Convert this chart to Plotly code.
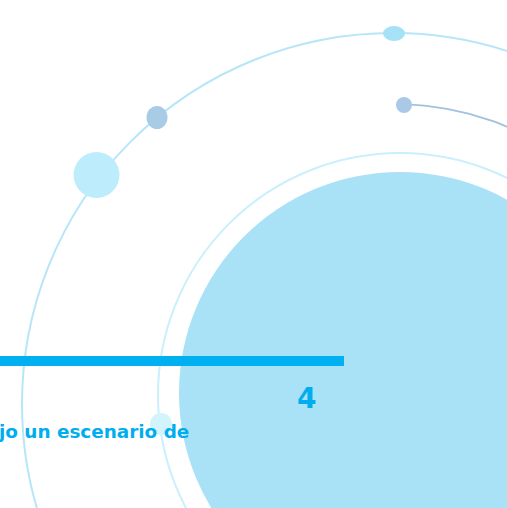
import numpy as np
import plotly.graph_objects as go

# ---- data (content of the graphic) ----
number_label = ["4"]
caption_text = ["jo un escenario de"]

# rings: centre x, centre y, radius
ring_cx = [393, 400]
ring_cy = [404, 395]
ring_r = [371, 242]
ring_colors = ["#b6e6f8", "#c9f0fc"]

disk_cx = [400]
disk_cy = [393]
disk_r = [221]

# dots: centre x, centre y, half-width, half-height
dot_x = [96.5, 157, 394, 404, 161]
dot_y = [175, 117.5, 33.5, 105, 424]
dot_rx = [23, 10.5, 11, 8, 11]
dot_ry = [23, 11.5, 7.5, 8, 11]
dot_colors = ["#bdecfc", "#a8cbe6", "#a6e2f7", "#a9c9e6", "#d3f3fd"]

# orbit arc from the small dot
arc_cx = [393]
arc_cy = [404]
arc_r = [300]
arc_deg = [88, 62]

bar_x = [0, 344]
bar_y = [356, 366]

W, H = 507, 508

fig = go.Figure()
shapes = []

# filled disk
for cx, cy, r in zip(disk_cx, disk_cy, disk_r):
    shapes.append(dict(type="circle", xref="x", yref="y",
                       x0=cx - r, x1=cx + r, y0=cy - r, y1=cy + r,
                       fillcolor="#a9e2f7", line=dict(width=0), layer="below"))
# rings
for cx, cy, r, c in zip(ring_cx, ring_cy, ring_r, ring_colors):
    shapes.append(dict(type="circle", xref="x", yref="y",
                       x0=cx - r, x1=cx + r, y0=cy - r, y1=cy + r,
                       fillcolor="rgba(0,0,0,0)", line=dict(width=2, color=c),
                       layer="below"))
fig.update_layout(shapes=shapes)

# arc
for cx, cy, r in zip(arc_cx, arc_cy, arc_r):
    t = np.radians(np.linspace(arc_deg[0], arc_deg[1], 60))
    fig.add_trace(go.Scatter(x=cx + r * np.cos(t), y=cy - r * np.sin(t),
                             mode="lines", line=dict(color="#a3c0de", width=1.8),
                             hoverinfo="skip", showlegend=False))

# dots
for x, y, rx, ry, c in zip(dot_x, dot_y, dot_rx, dot_ry, dot_colors):
    fig.add_shape(type="circle", xref="x", yref="y",
                  x0=x - rx, x1=x + rx, y0=y - ry, y1=y + ry,
                  fillcolor=c, line=dict(width=0), layer="above")

# bar
fig.add_shape(type="rect", xref="x", yref="y", x0=bar_x[0], x1=bar_x[1],
              y0=bar_y[0], y1=bar_y[1], fillcolor="#00b0f0",
              line=dict(width=0), layer="above")

fig.add_annotation(x=306.5, y=398.5, xref="x", yref="y", text="<b>%s</b>" % number_label[0],
                   showarrow=False, font=dict(family="DejaVu Sans", size=28, color="#00aeef"),
                   xanchor="center", yanchor="middle")
fig.add_annotation(x=191, y=431, xref="x", yref="y", text="<b>%s</b>" % caption_text[0],
                   showarrow=False, font=dict(family="DejaVu Sans", size=18.4, color="#00aeef"),
                   xanchor="right", yanchor="middle")

fig.update_layout(width=W, height=H, autosize=False,
                  margin=dict(l=0, r=0, t=0, b=0),
                  paper_bgcolor="white", plot_bgcolor="white",
                  xaxis=dict(range=[0, W], visible=False, fixedrange=True),
                  yaxis=dict(range=[H, 0], visible=False, fixedrange=True),
                  showlegend=False)

fig.write_html("out.html", config={"displayModeBar": False},
               post_script="document.body.style.margin='0';document.body.style.overflow='hidden';")
